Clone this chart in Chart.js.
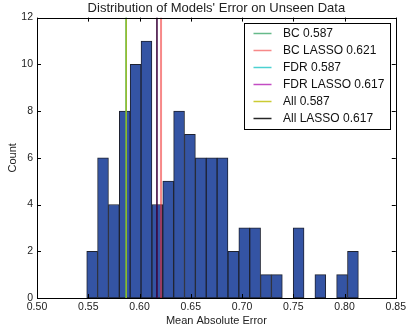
<!DOCTYPE html>
<html>
<head>
<meta charset="utf-8">
<script src="https://cdn.jsdelivr.net/npm/chart.js@4"></script>
<style>
  html, body { margin: 0; padding: 0; background: #fff; }
  #wrap { width: 409px; height: 329px; }
</style>
</head>
<body>
<div id="wrap"><canvas id="chart"></canvas></div>
<script>
// centros dos bins do histograma (largura ~0.0106)
const binCenters = [0.5538, 0.5644, 0.5750, 0.5856, 0.5962, 0.6068, 0.6174, 0.6280, 0.6386,
    0.6492, 0.6598, 0.6704, 0.6810, 0.6916, 0.7022, 0.7128, 0.7234, 0.7340, 0.7446,
    0.7552, 0.7658, 0.7764, 0.7870, 0.7976, 0.8082];
const counts = [2, 6, 4, 8, 10, 11, 4, 5, 8, 7, 6, 6, 6, 2, 3, 3, 1, 1, 0, 3, 0, 1, 0, 1, 2];

// linhas verticais (erro de cada modelo)
const lineLabels = ['BC 0.587', 'BC LASSO 0.621', 'FDR 0.587', 'FDR LASSO 0.617', 'All 0.587', 'All LASSO 0.617'];
const lineValues = [0.587, 0.621, 0.587, 0.617, 0.587, 0.617];
const lineColors = ['rgba(0,140,60,0.6)', 'rgba(240,40,40,0.55)', 'rgba(0,190,190,0.7)',
    'rgba(170,0,170,0.7)', 'rgba(190,190,0,0.8)', 'rgba(0,0,0,0.85)'];
const lineWidths = [1.5, 2, 1.5, 1.5, 1.5, 1.2];

const xTicks = [0.50, 0.55, 0.60, 0.65, 0.70, 0.75, 0.80, 0.85];
const yTicks = [0, 2, 4, 6, 8, 10, 12];

const FONT = '"Liberation Sans", Arial, sans-serif';

const histData = [];
binCenters.forEach(function (c, i) {
    if (counts[i] > 0) histData.push({ x: c, y: counts[i] });
});

const datasets = [{
    type: 'bar',
    label: 'hist',
    data: histData,
    backgroundColor: '#3454a4',
    borderColor: '#1e2230',
    borderWidth: 1,
    borderSkipped: false,
    barPercentage: 1,
    categoryPercentage: 1,
    order: 10
}];
lineValues.forEach(function (v, i) {
    datasets.push({
        type: 'line',
        label: lineLabels[i],
        data: [{ x: v, y: 0 }, { x: v, y: 12 }],
        borderColor: lineColors[i],
        borderWidth: lineWidths[i],
        pointRadius: 0,
        fill: false,
        order: 6 - i
    });
});

// moldura, ticks para dentro e legenda com caixa
const framePlugin = {
    id: 'frame',
    afterDraw: function (chart) {
        const c = chart.ctx, a = chart.chartArea;
        const xs = chart.scales.x, ys = chart.scales.y;
        c.save();
        c.strokeStyle = '#000';
        c.lineWidth = 1;
        c.beginPath();
        xTicks.forEach(function (t) {
            const px = Math.round(xs.getPixelForValue(t)) + 0.5;
            c.moveTo(px, a.bottom); c.lineTo(px, a.bottom - 4);
            c.moveTo(px, a.top); c.lineTo(px, a.top + 4);
        });
        yTicks.forEach(function (t) {
            const py = Math.round(ys.getPixelForValue(t)) + 0.5;
            c.moveTo(a.left, py); c.lineTo(a.left + 4, py);
            c.moveTo(a.right, py); c.lineTo(a.right - 4, py);
        });
        c.stroke();
        c.strokeRect(Math.round(a.left) + 0.5, Math.round(a.top) + 0.5,
            Math.round(a.right - a.left), Math.round(a.bottom - a.top));

        // legenda
        const bw = 146, bh = 106;
        const bx = Math.round(a.right - 6 - bw) + 0.5, by = Math.round(a.top + 5) + 0.5;
        c.fillStyle = '#fff';
        c.fillRect(bx, by, bw, bh);
        c.strokeRect(bx, by, bw, bh);
        c.font = '12px ' + FONT;
        c.textBaseline = 'middle';
        lineLabels.forEach(function (lab, i) {
            const yy = by + 10 + i * 17;
            c.strokeStyle = lineColors[i];
            c.lineWidth = 1.5;
            c.beginPath();
            c.moveTo(bx + 9, yy); c.lineTo(bx + 27, yy);
            c.stroke();
            c.fillStyle = '#111';
            c.fillText(lab, bx + 38.5, yy);
        });
        c.restore();
    }
};

new Chart(document.getElementById('chart'), {
    type: 'bar',
    data: { datasets: datasets },
    options: {
        responsive: true,
        maintainAspectRatio: false,
        animation: false,
        layout: { padding: { left: 0, right: 9, top: 0, bottom: 0 } },
        plugins: {
            legend: { display: false },
            tooltip: { enabled: false },
            title: {
                display: true,
                text: "Distribution of Models' Error on Unseen Data",
                fullSize: false,
                color: '#222',
                font: { family: FONT, size: 13, weight: 'normal' },
                padding: { top: 1, bottom: 1 }
            }
        },
        scales: {
            x: {
                type: 'linear',
                min: 0.5,
                max: 0.85,
                offset: false,
                grid: { display: false, drawTicks: false, offset: false },
                border: { display: false },
                afterBuildTicks: function (s) { s.ticks = xTicks.map(function (v) { return { value: v }; }); },
                afterFit: function (s) { s.height = 31; },
                ticks: {
                    padding: 3,
                    color: '#222',
                    font: { family: FONT, size: 10.5 },
                    maxRotation: 0,
                    callback: function (v) { return Number(v).toFixed(2); }
                },
                title: {
                    display: true,
                    text: 'Mean Absolute Error',
                    color: '#222',
                    font: { family: FONT, size: 11 },
                    padding: { top: 0, bottom: 1 }
                }
            },
            y: {
                min: 0,
                max: 12,
                grid: { display: false, drawTicks: false },
                border: { display: false },
                afterBuildTicks: function (s) { s.ticks = yTicks.map(function (v) { return { value: v }; }); },
                afterFit: function (s) { s.width = 37; },
                ticks: {
                    padding: 4,
                    color: '#222',
                    font: { family: FONT, size: 10.5 }
                },
                title: {
                    display: true,
                    text: 'Count',
                    color: '#222',
                    font: { family: FONT, size: 11 },
                    padding: { top: 6, bottom: 0 }
                }
            }
        }
    },
    plugins: [framePlugin]
});
</script>
</body>
</html>
